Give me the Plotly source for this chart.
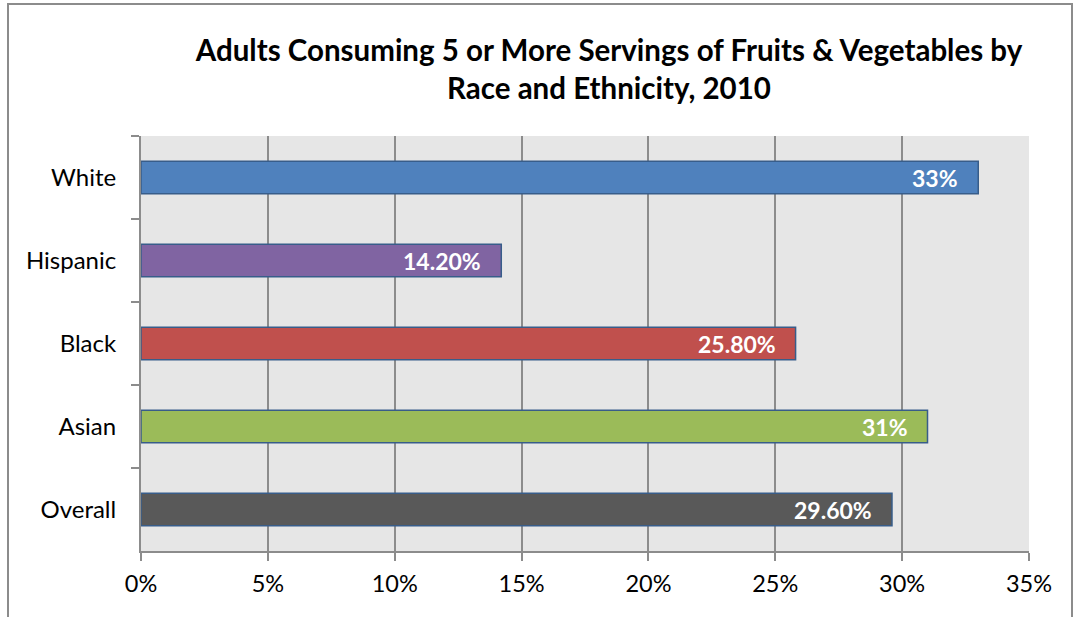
import plotly.graph_objects as go

categories = ["White", "Hispanic", "Black", "Asian", "Overall"]
values = [0.33, 0.142, 0.258, 0.31, 0.296]
labels = ["33%", "14.20%", "25.80%", "31%", "29.60%"]
colors = ["#4F81BD", "#8064A2", "#C0504D", "#9BBB59", "#595959"]
x_ticks = [0, 0.05, 0.10, 0.15, 0.20, 0.25, 0.30, 0.35]
x_tick_text = ["0%", "5%", "10%", "15%", "20%", "25%", "30%", "35%"]
title_text = "Adults Consuming 5 or More Servings of Fruits & Vegetables by<br>Race and Ethnicity, 2010"

FONT = "Lato"

fig = go.Figure()
fig.add_trace(go.Bar(
    y=categories, x=values, orientation="h",
    marker=dict(color=colors, line=dict(color="#385D8A", width=1.5)),
    width=0.39, hoverinfo="skip",
))

for c, v, t in zip(categories, values, labels):
    fig.add_annotation(x=v, y=c, xref="x", yref="y", text="<b>%s</b>" % t,
                       showarrow=False, xanchor="right", xshift=-18,
                       font=dict(family=FONT, size=23, color="white"))

W, H = 1075, 617
L, R, T, B = 141, 1029, 136, 551
pw, ph = R - L, B - T

fig.add_shape(type="rect", xref="paper", yref="paper",
              x0=(8 - L) / pw, x1=(1072 - L) / pw,
              y0=(B - 640) / ph, y1=(B - 4) / ph,
              line=dict(color="#8C8C8C", width=2), fillcolor="rgba(0,0,0,0)", layer="below")

fig.update_layout(
    width=W, height=H,
    margin=dict(l=L, r=W - R, t=T, b=H - B, autoexpand=False),
    paper_bgcolor="white", plot_bgcolor="#E6E6E6",
    showlegend=False,
    font=dict(family=FONT, size=24, color="black"),
    title=dict(text="<b>%s</b>" % title_text, x=609 / W, xanchor="center",
               y=1 - 61 / H, yanchor="middle",
               font=dict(family=FONT, size=29.5, color="black")),
    xaxis=dict(range=[0, 0.35], tickvals=x_ticks, ticktext=x_tick_text,
               tickfont=dict(size=23.5),
               showgrid=True, gridcolor="#8C8C8C", gridwidth=2,
               showline=True, linecolor="#8C8C8C", linewidth=2,
               ticks="outside", ticklen=8, tickwidth=2, tickcolor="#8C8C8C",
               ticklabelstandoff=3, zeroline=False, fixedrange=True),
    yaxis=dict(autorange="reversed", showgrid=False,
               tickfont=dict(size=24),
               showline=True, linecolor="#8C8C8C", linewidth=2,
               ticks="outside", tickson="boundaries", ticklen=8, tickwidth=2,
               tickcolor="#8C8C8C", ticklabelstandoff=18, fixedrange=True),
)

fig.write_html("out.html", config={"displayModeBar": False},
               post_script="document.body.style.margin='0';document.body.style.overflow='hidden';")
